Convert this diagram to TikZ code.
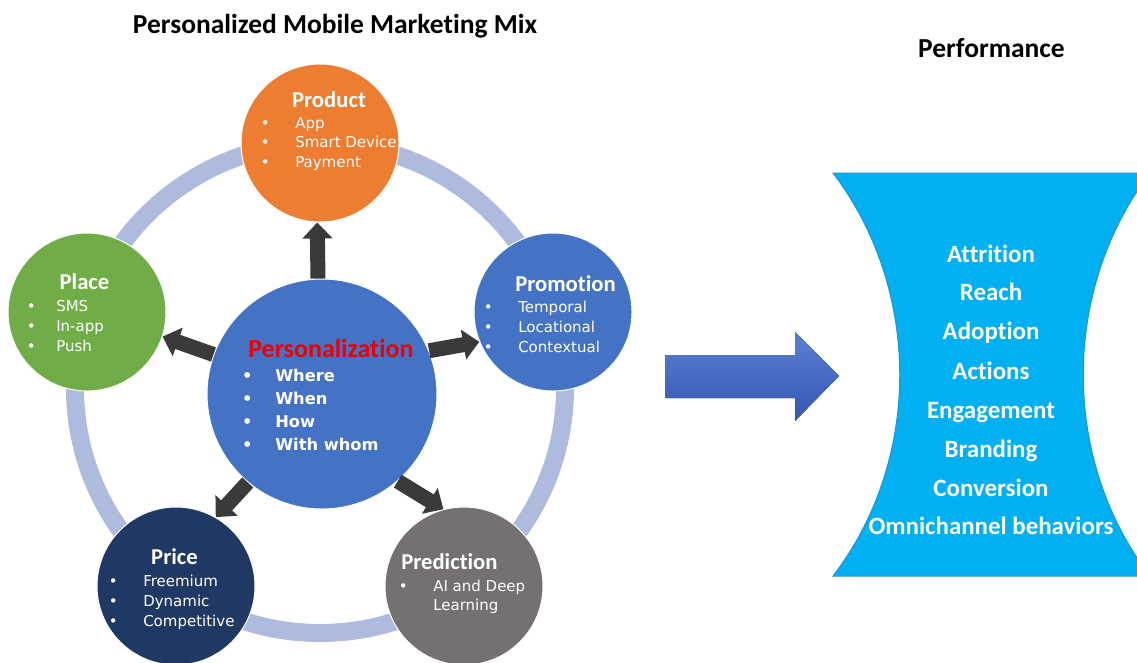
\documentclass[tikz,border=0pt]{standalone}
\usepackage{fontspec}
\setmainfont{Carlito}[Ligatures=NoCommon]
\newfontfamily\itemfont{DejaVu Sans}
\usetikzlibrary{arrows.meta}

\definecolor{ringc}{HTML}{AFBBDE}
\definecolor{prodc}{HTML}{ED7D31}
\definecolor{placec}{HTML}{70AD47}
\definecolor{promoc}{HTML}{4472C4}
\definecolor{pricec}{HTML}{203864}
\definecolor{predc}{HTML}{767171}
\definecolor{arrowc}{HTML}{3A3A3A}
\definecolor{perfc}{HTML}{00B0F0}
\definecolor{perfedge}{HTML}{1C95D2}
\definecolor{keyred}{HTML}{EE0000}
\definecolor{bigtop}{HTML}{5B80D3}
\definecolor{bigbot}{HTML}{3457B3}

% bullet list: zero-width bullet, then the item text after a fixed gap
\newcommand\bu{\makebox[0pt]{\textbullet}}
\newcommand\blist[2]{\begin{tabular}[t]{@{}l@{\hspace{#1}}l@{}}#2\end{tabular}}

\begin{document}
\begin{tikzpicture}[x=0.75pt,y=-0.75pt,
  mixcircle/.style={circle,inner sep=0pt,minimum size=118.5pt,draw=white,line width=0.75pt},
  heading/.style={font=\bfseries\fontsize{20.6}{24}\selectfont,text=black,anchor=base,inner sep=0pt},
  ctitle/.style={font=\bfseries\fontsize{17}{20}\selectfont,text=white,anchor=base,inner sep=0pt},
  clist/.style={font=\itemfont\fontsize{11.25}{15}\selectfont,text=white,anchor=base west,inner sep=0pt},
  blockarrow/.style={draw=arrowc,line width=11.25pt,-{Triangle[width=22pt,length=12pt]}},
  perfitem/.style={font=\bfseries\fontsize{18.7}{22}\selectfont,text=white,anchor=base,inner sep=0pt}]

\useasboundingbox (0,0) rectangle (1137,662);
\fill[white] (0,0) rectangle (1137,662);

% headings
\node[heading] (title) at (335,33) {Personalized Mobile Marketing Mix};
\node[heading] (perfhead) at (991.5,57) {Performance};

% ring joining the five elements of the mix
\draw[ringc,line width=13.5pt] (320,388) circle[radius=245];

% the five elements and the personalization hub
\node[mixcircle,fill=prodc]  (prod)  at (320,143) {};
\node[mixcircle,fill=placec] (place) at (87,312) {};
\node[mixcircle,fill=promoc] (promo) at (553,312) {};
\node[mixcircle,fill=pricec] (price) at (176,586) {};
\node[mixcircle,fill=predc]  (pred)  at (464,586) {};
\node[circle,inner sep=0pt,minimum size=172.5pt,fill=promoc,draw=white,line width=0.75pt] (ctr) at (322,394) {};

% arrows from the hub to each element
\draw[blockarrow] (ctr.92)    -- (prod.268.5);
\draw[blockarrow] (ctr.160.6) -- (place.342);
\draw[blockarrow] (ctr.22)    -- (promo.202);
\draw[blockarrow] (ctr.230)   -- (price.60);
\draw[blockarrow] (ctr.311)   -- (pred.105);

% texts of the elements
\node[ctitle] (prodt) at (329,107) {Product};
\node[clist,font=\itemfont\fontsize{11.25}{14.7}\selectfont] (prodl) at (265,128)
  {\blist{22.5pt}{\bu & App\\ \bu & Smart Device\\ \bu & Payment}};

\node[ctitle] (placet) at (84.5,289) {Place};
\node[clist] (placel) at (31,311)
  {\blist{18.75pt}{\bu & SMS\\ \bu & In-app\\ \bu & Push}};

\node[ctitle,anchor=base west] (promot) at (515,291) {Promotion};
\node[clist] (promol) at (488,312)
  {\blist{22.5pt}{\bu & Temporal\\ \bu & Locational\\ \bu & Contextual}};

\node[ctitle] (pricet) at (174.5,564) {Price};
\node[clist] (pricel) at (113,586)
  {\blist{22.5pt}{\bu & Freemium\\ \bu & Dynamic\\ \bu & Competitive}};

\node[ctitle,anchor=base west] (predt) at (401,569) {Prediction};
\node[clist,font=\itemfont\fontsize{11.25}{14.4}\selectfont] (predl) at (403,591)
  {\blist{22.5pt}{\bu & AI and Deep\\ & Learning}};

\node[anchor=base west,inner sep=0pt,text=keyred,font=\bfseries\fontsize{19.5}{22}\selectfont] (ctrt) at (248,357) {Personalization};
\node[clist,font=\itemfont\bfseries\fontsize{12.2}{17.25}\selectfont] (ctrl) at (247,381)
  {\blist{21pt}{\bu & Where\\ \bu & When\\ \bu & How\\ \bu & With whom}};

% arrow leading to performance
\fill[top color=bigtop,bottom color=bigbot]
  (665,355) -- (795,355) -- (795,332) -- (839,376) -- (795,421) -- (795,398) -- (665,398) -- cycle;

% performance outcomes
\begin{scope}
  \clip (0,0) rectangle (1137,662);
  \filldraw[fill=perfc,draw=perfedge,line width=0.75pt]
    (833,173) -- (1150,173) .. controls (1061,290) and (1061,460) .. (1150,576)
    -- (833,576) .. controls (922,460) and (922,290) .. (833,173) -- cycle;
\end{scope}
\foreach \t/\y [count=\i] in {Attrition/262,Reach/300,Adoption/339,Actions/379,
    Engagement/418,Branding/457,Conversion/496,Omnichannel behaviors/534}
  \node[perfitem] (perf\i) at (991,\y) {\t};

\end{tikzpicture}
\end{document}
